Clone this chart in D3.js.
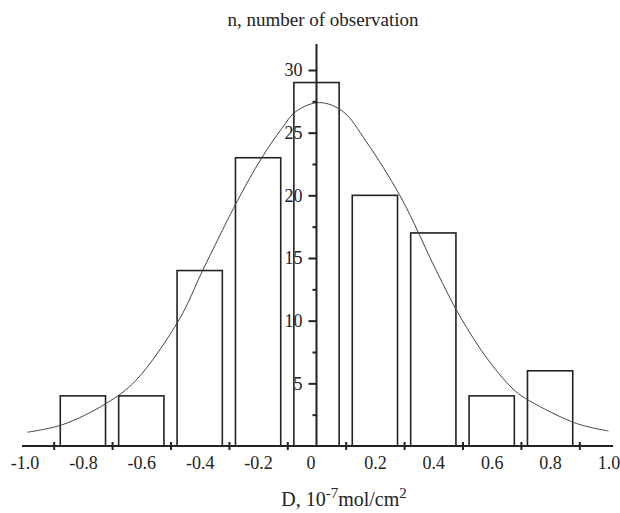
<!DOCTYPE html>
<html>
<head>
<meta charset="utf-8">
<script src="https://cdn.jsdelivr.net/npm/d3@7"></script>
<style>
  body { margin: 0; background: #fff; }
  text { font-family: "Liberation Serif", "Times New Roman", serif; fill: #222; }
</style>
</head>
<body>
<div class="chart"></div>
<script>
// histogram bins (centres) and counts
const binCenters = [-0.8, -0.6, -0.4, -0.2, 0, 0.2, 0.4, 0.6, 0.8]
const counts = [4, 4, 14, 23, 29, 20, 17, 4, 6]
// bin edges carry the tick marks on the x axis
const binEdges = [-0.9, -0.7, -0.5, -0.3, -0.1, 0.1, 0.3, 0.5, 0.7, 0.9]
const xLabels = [-1.0, -0.8, -0.6, -0.4, -0.2, 0, 0.2, 0.4, 0.6, 0.8, 1.0]
const yTicks = [5, 10, 15, 20, 25, 30]
const yMinor = [2.5, 7.5, 12.5, 17.5, 22.5, 27.5]
// fitted curve
const curveX = [-0.99, -0.87, -0.72, -0.62, -0.47, -0.39, -0.27, -0.19, -0.12, -0.07, 0.01, 0.09, 0.17, 0.29, 0.41, 0.49, 0.59, 0.68, 0.73, 0.89, 1.0]
const curveY = [1.1, 1.7, 3.4, 5.2, 10.1, 14.0, 19.6, 22.9, 25.3, 26.7, 27.4, 26.7, 24.3, 19.8, 14.0, 10.4, 6.8, 4.4, 3.6, 1.8, 1.2]

const W = 620
const H = 513
const barHalf = 0.0775 // half bar width in data units

const svg = d3.select('.chart').append('svg')
  .attr('width', W)
  .attr('height', H)

const x = d3.scaleLinear().domain([-1, 1]).range([24.5, 608.5])
const y = d3.scaleLinear().domain([0, 30]).range([446, 70])

// bars
svg.append('g').attr('class', 'bars')
  .selectAll('rect')
  .data(binCenters)
  .enter().append('rect')
  .attr('x', d => x(d - barHalf))
  .attr('width', d => x(d + barHalf) - x(d - barHalf))
  .attr('y', (d, i) => y(counts[i]))
  .attr('height', (d, i) => y(0) - y(counts[i]))
  .attr('fill', 'none')
  .attr('stroke', '#222')
  .attr('stroke-width', 1.6)

// fitted curve
const pts = curveX.map((v, i) => [v, curveY[i]])
svg.append('path')
  .datum(pts)
  .attr('fill', 'none')
  .attr('stroke', '#444')
  .attr('stroke-width', 1)
  .attr('d', d3.line().x(d => x(d[0])).y(d => y(d[1])).curve(d3.curveCatmullRom))

// x axis: line, ticks on bin edges, labels on round values
svg.append('line')
  .attr('x1', 22).attr('x2', 613)
  .attr('y1', y(0)).attr('y2', y(0))
  .attr('stroke', '#222').attr('stroke-width', 2)

const gx = svg.append('g')
  .attr('transform', `translate(0,${y(0)})`)
  .call(d3.axisBottom(x).tickValues(binEdges).tickFormat('').tickSize(4))
gx.select('.domain').remove()
gx.selectAll('.tick line').attr('y1', -4).attr('stroke', '#222').attr('stroke-width', 2)

const gxl = svg.append('g')
  .attr('transform', `translate(0,${y(0)})`)
  .call(d3.axisBottom(x).tickValues(xLabels).tickSize(0).tickPadding(10)
    .tickFormat(d => d === 0 ? '0' : d.toFixed(1)))
gxl.select('.domain').remove()
gxl.selectAll('text')
  .attr('font-size', 18)
  .attr('font-family', null)
  .attr('fill', null)
  .attr('dx', d => d === 0 ? -6 : 0)

// y axis at x = 0
svg.append('line')
  .attr('x1', x(0)).attr('x2', x(0))
  .attr('y1', y(0)).attr('y2', 44)
  .attr('stroke', '#222').attr('stroke-width', 2)

const gy = svg.append('g')
  .attr('transform', `translate(${x(0)},0)`)
  .call(d3.axisLeft(y).tickValues(yTicks).tickSize(8).tickPadding(6))
gy.select('.domain').remove()
gy.selectAll('.tick line').attr('stroke', '#222').attr('stroke-width', 2)
gy.selectAll('text')
  .attr('font-size', 18)
  .attr('font-family', null)
  .attr('fill', null)

const gym = svg.append('g')
  .attr('transform', `translate(${x(0)},0)`)
  .call(d3.axisLeft(y).tickValues(yMinor).tickSize(4).tickFormat(''))
gym.select('.domain').remove()
gym.selectAll('.tick line').attr('stroke', '#222').attr('stroke-width', 2)

// titles
svg.append('text')
  .attr('x', 323).attr('y', 26)
  .attr('text-anchor', 'middle')
  .attr('font-size', 19)
  .text('n, number of observation')

const xl = svg.append('text')
  .attr('x', 344).attr('y', 506)
  .attr('text-anchor', 'middle')
  .attr('font-size', 20)
xl.append('tspan').text('D, 10')
xl.append('tspan').attr('dy', -8).attr('font-size', 15).text('-7')
xl.append('tspan').attr('dy', 8).text('mol/cm')
xl.append('tspan').attr('dy', -8).attr('font-size', 15).text('2')
</script>
</body>
</html>
